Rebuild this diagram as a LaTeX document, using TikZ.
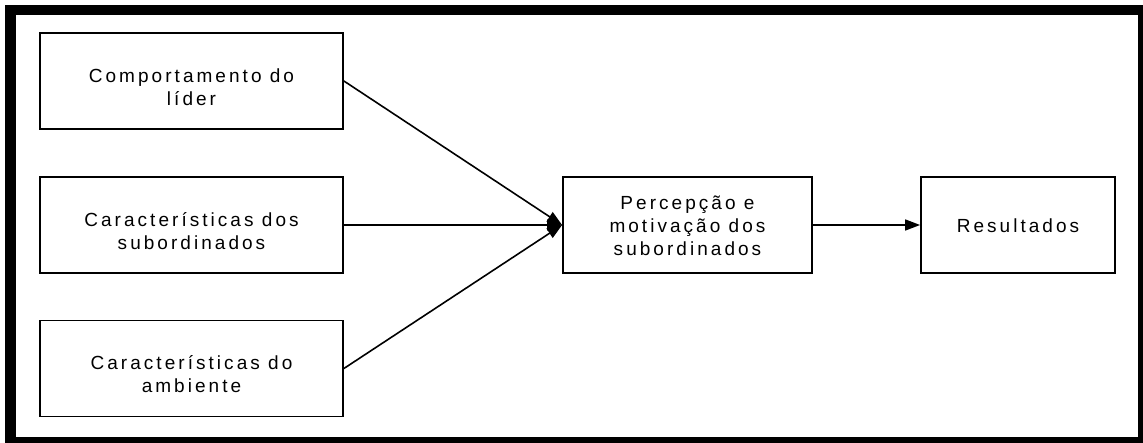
\documentclass[tikz,border=0pt]{standalone}
\usepackage{fontspec}
\setmainfont{Liberation Sans}[LetterSpace=16]
\usetikzlibrary{arrows.meta}
\begin{document}
\begin{tikzpicture}[x=1pt,y=-1pt,
  box/.style={draw=black,line width=1.8pt,fill=white,minimum height=96pt,inner sep=0pt},
  txt/.style={align=center,font=\fontsize{19}{23}\selectfont,inner sep=0pt},
  link/.style={line width=1.6pt,-{Triangle[length=15pt,width=11pt]}}]
  \useasboundingbox (0,0) rectangle (1143,443);
  % outer frame
  \fill[black] (5,5) rectangle (1143,443);
  \fill[white] (16,15) rectangle (1138,437);
  % factor boxes
  \node[box,minimum width=303pt] (lider) at (191.5,81) {};
  \node[box,minimum width=303pt] (subord) at (191.5,225) {};
  \node[box,minimum width=303pt] (amb) at (191.5,368.5) {};
  \node[txt] (liderT) at ([yshift=-6pt]lider.center) {Comportamento do\\líder};
  \node[txt] (subordT) at ([yshift=-6pt]subord.center) {Características dos\\subordinados};
  \node[txt] (ambT) at ([yshift=-6pt]amb.center) {Características do\\ambiente};
  % perception and outcome boxes
  \node[box,minimum width=249pt] (perc) at (687.5,225) {};
  \node[txt] (percT) at ([yshift=-1pt]perc.center) {Percepção e\\motivação dos\\subordinados};
  \node[box,minimum width=194pt] (res) at (1018,225) {};
  \node[txt] (resT) at ([yshift=-1pt]res.center) {Resultados};
  % connectors
  \draw[link] (lider.east) -- (perc.west);
  \draw[link] (subord.east) -- (perc.west);
  \draw[link] (amb.east) -- (perc.west);
  \draw[link] (perc.east) -- (res.west);
\end{tikzpicture}
\end{document}
